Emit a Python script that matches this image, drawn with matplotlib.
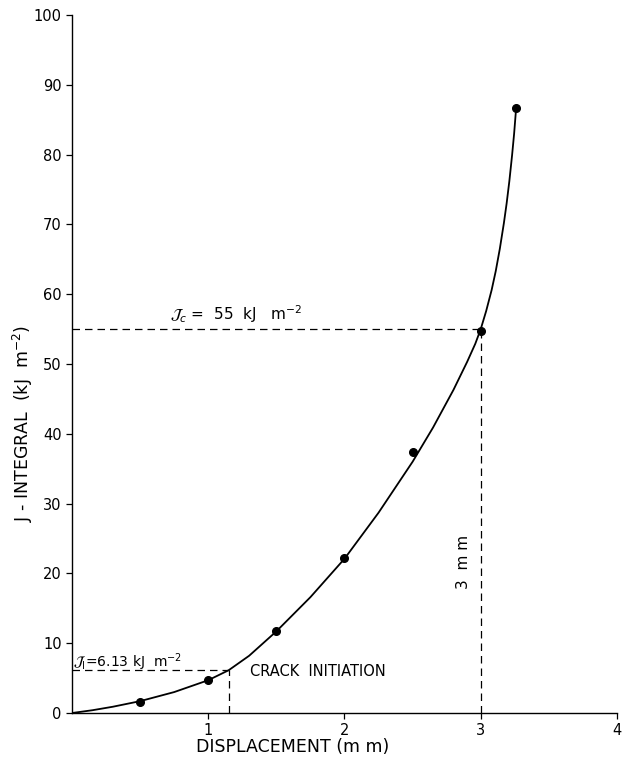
import matplotlib.pyplot as plt

# measured points
disp_pts = [0.5, 1.0, 1.5, 2.0, 2.5, 3.0, 3.26]
j_pts = [1.6, 4.7, 11.8, 22.2, 37.4, 54.8, 86.7]

# fitted curve
curve_x = [0.0, 0.15, 0.3, 0.5, 0.75, 1.0, 1.15, 1.3, 1.5, 1.75, 2.0, 2.25,
           2.5, 2.65, 2.8, 2.9, 2.96, 3.0, 3.04, 3.08, 3.11, 3.14, 3.17,
           3.19, 3.21, 3.23, 3.245, 3.26]
curve_y = [0.0, 0.4, 0.9, 1.7, 3.0, 4.7, 6.13, 8.2, 11.7, 16.6, 22.1, 28.7,
           36.0, 40.9, 46.3, 50.3, 52.9, 55.0, 57.6, 60.6, 63.3, 66.5, 70.2,
           73.0, 76.2, 79.9, 83.0, 86.7]

j_c, d_c = 55, 3.0
j_i, d_i = 6.13, 1.15

x_ticks = [1, 2, 3, 4]
y_ticks = list(range(0, 101, 10))

fig = plt.figure(figsize=(6.26, 7.69), dpi=100)
ax = fig.add_axes([0.115, 0.0728, 0.8706, 0.9077])

ax.plot(curve_x, curve_y, color="black", lw=1.3)
ax.plot(disp_pts, j_pts, "o", color="black", ms=5.5)

dash = dict(color="black", lw=0.9, linestyle=(0, (6, 4)))
ax.plot([0, d_c], [j_c, j_c], **dash)
ax.plot([d_c, d_c], [0, j_c], **dash)
ax.plot([0, d_i], [j_i, j_i], **dash)
ax.plot([d_i, d_i], [0, j_i], **dash)

ax.text(0.72, 56.3, r"$\mathcal{J}_c$ =  55  kJ   m$^{-2}$", fontsize=11)
ax.text(0.01, 6.6, r"$\mathcal{J}_\mathrm{I}$=6.13 kJ  m$^{-2}$", fontsize=10)
ax.text(1.31, 5.9, "CRACK  INITIATION", fontsize=10.5, va="center")
ax.text(2.87, 21.6, "3  m m", fontsize=11, rotation=90, ha="center", va="center")

ax.set_xlim(0, 4)
ax.set_ylim(0, 100)
ax.set_xticks(x_ticks)
ax.set_yticks(y_ticks)
ax.tick_params(labelsize=10.5, length=4, width=0.9, direction="out")
for s in ["top", "right"]:
    ax.spines[s].set_visible(False)
for s in ["left", "bottom"]:
    ax.spines[s].set_linewidth(1.0)

ax.set_xlabel("DISPLACEMENT (m m)", fontsize=12.5, labelpad=2)
ax.xaxis.set_label_coords(0.405, -0.036)
ax.set_ylabel(r"J - INTEGRAL  (kJ  m$^{-2}$)", fontsize=12.5, labelpad=4)
ax.yaxis.set_label_coords(-0.068, 0.415)

fig.savefig("out.png", dpi=100)
